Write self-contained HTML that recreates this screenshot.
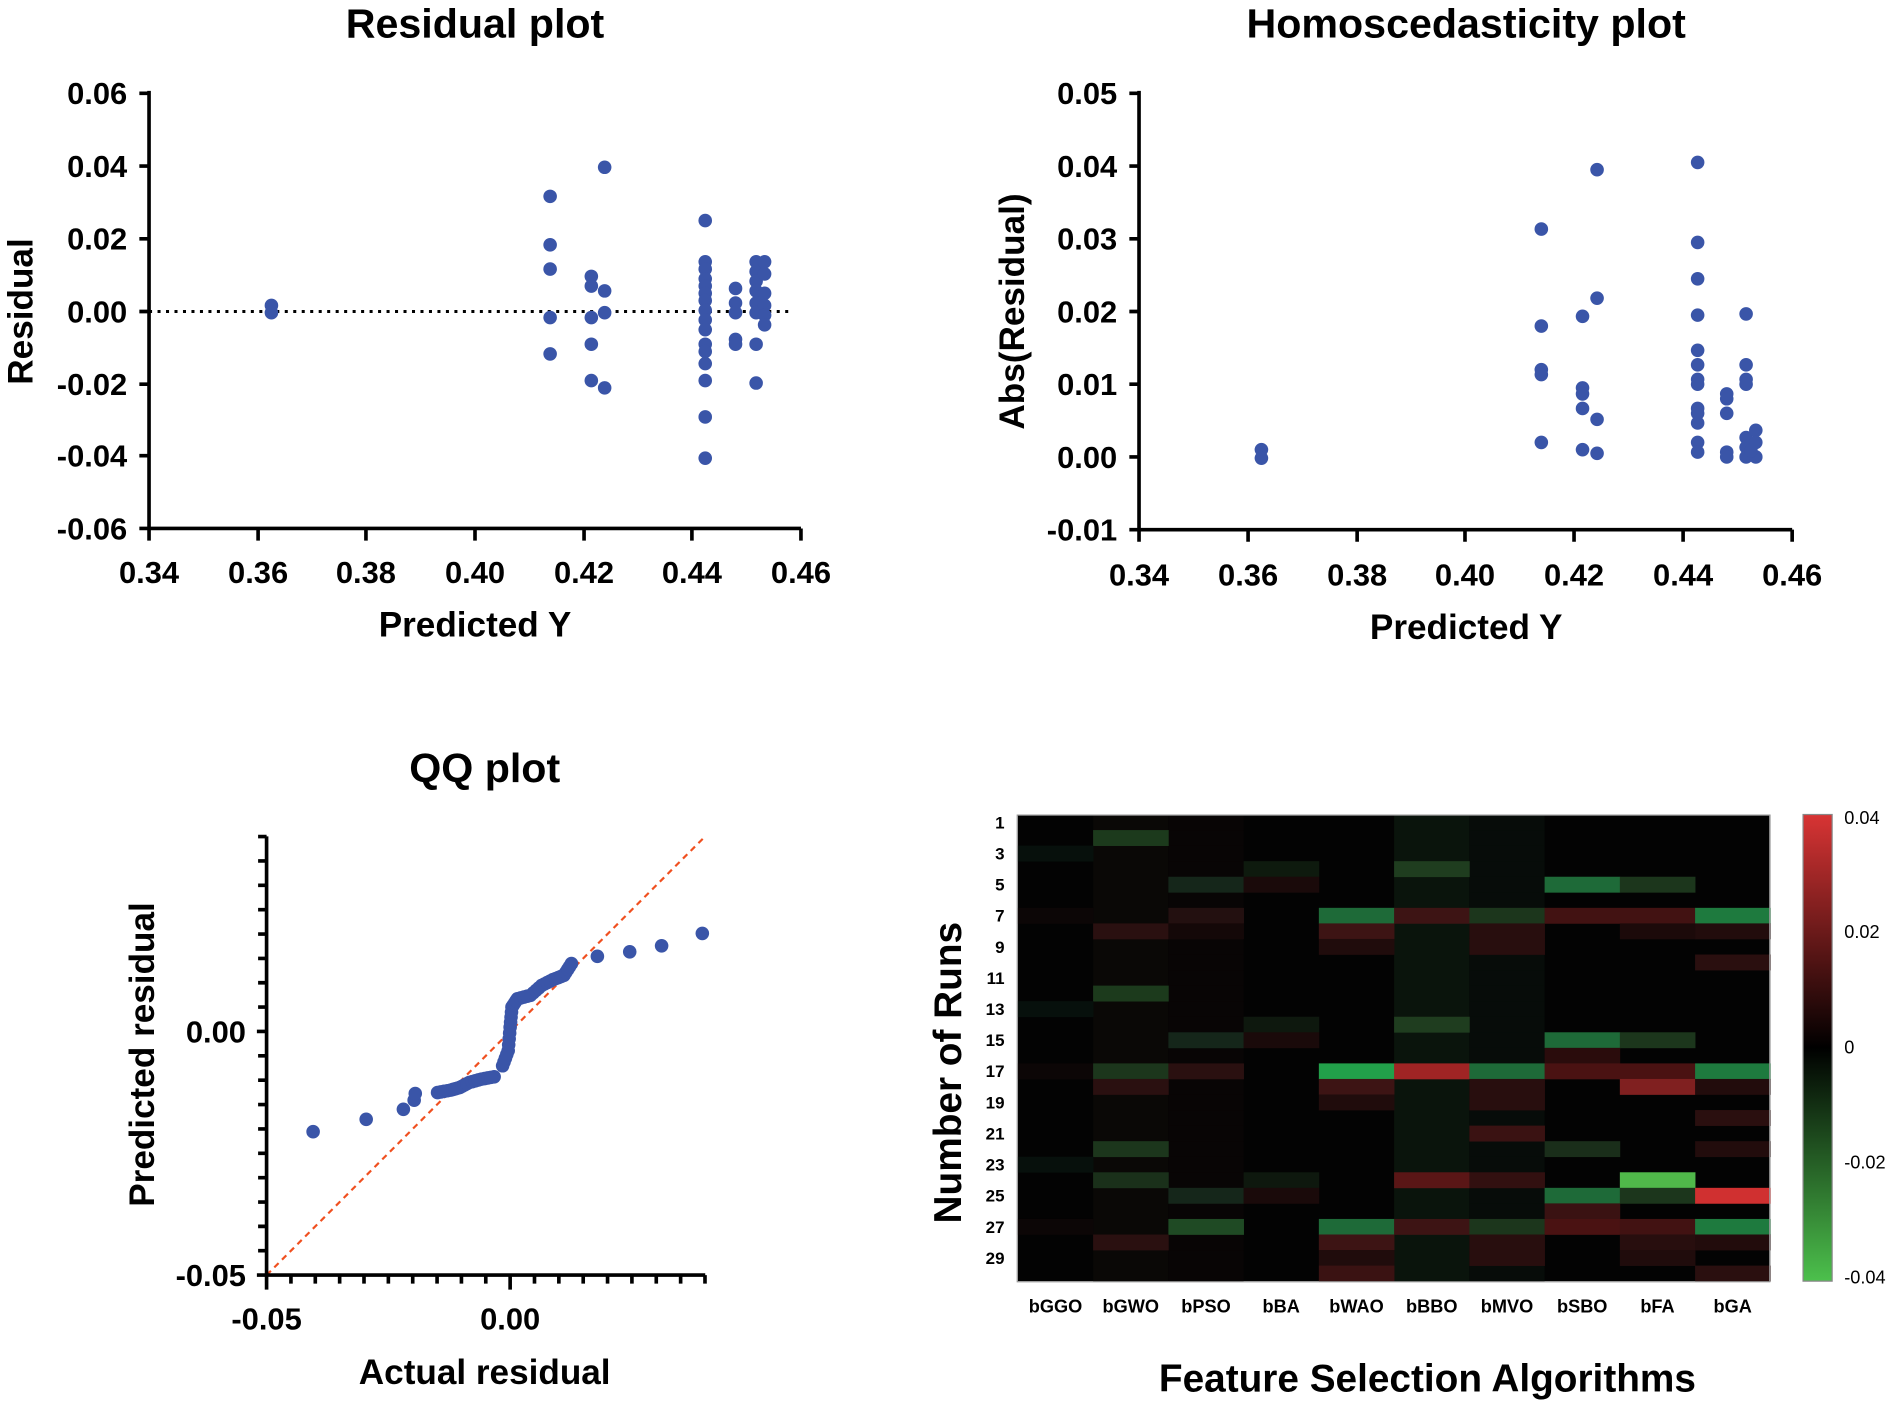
<!DOCTYPE html>
<html><head><meta charset="utf-8"><style>
html,body{margin:0;padding:0;background:#fff;}
svg{display:block;}
text{font-family:"Liberation Sans",Arial,sans-serif;font-weight:bold;fill:#000;}
</style></head><body>
<svg id="s" width="1900" height="1406" viewBox="0 0 1568 1160" preserveAspectRatio="none" xmlns="http://www.w3.org/2000/svg">
<defs><linearGradient id="cb" x1="0" y1="0" x2="0" y2="1">
<stop offset="0" stop-color="#d83434"/><stop offset="0.5" stop-color="#000"/><stop offset="1" stop-color="#4cc04c"/></linearGradient></defs>
<!-- Residual plot -->
<text x="392" y="31" font-size="34" text-anchor="middle">Residual plot</text>
<g stroke="#000" stroke-width="3" fill="none">
<path d="M123 75 V436 H661"/>
<path d="M115 77H123M115 137H123M115 197H123M115 257H123M115 317H123M115 376H123M115 436H123"/>
<path d="M123 436V446M213 436V446M302 436V446M392 436V446M482 436V446M571 436V446M661 436V446"/>
</g>
<line x1="123" y1="257" x2="655" y2="257" stroke="#000" stroke-width="2.5" stroke-dasharray="2.5 4.5"/>
<g font-size="25.5" text-anchor="end">
<text x="105" y="86">0.06</text><text x="105" y="146">0.04</text><text x="105" y="206">0.02</text><text x="105" y="266">0.00</text><text x="105" y="326">-0.02</text><text x="105" y="385">-0.04</text><text x="105" y="445">-0.06</text></g>
<g font-size="25.5" text-anchor="middle">
<text x="123" y="481">0.34</text><text x="213" y="481">0.36</text><text x="302" y="481">0.38</text><text x="392" y="481">0.40</text><text x="482" y="481">0.42</text><text x="571" y="481">0.44</text><text x="661" y="481">0.46</text></g>
<text x="392" y="525" font-size="29" text-anchor="middle">Predicted Y</text>
<text transform="translate(27,257) rotate(-90)" font-size="29" text-anchor="middle">Residual</text>
<!-- Homoscedasticity -->
<text x="1210" y="31" font-size="34" text-anchor="middle">Homoscedasticity plot</text>
<g stroke="#000" stroke-width="3" fill="none">
<path d="M940 75 V437 H1479"/>
<path d="M932 77H940M932 137H940M932 197H940M932 257H940M932 317H940M932 377H940M932 437H940"/>
<path d="M940 437V447M1030 437V447M1120 437V447M1209 437V447M1299 437V447M1389 437V447M1479 437V447"/>
</g>
<g font-size="25.5" text-anchor="end">
<text x="922" y="86">0.05</text><text x="922" y="146">0.04</text><text x="922" y="206">0.03</text><text x="922" y="266">0.02</text><text x="922" y="326">0.01</text><text x="922" y="386">0.00</text><text x="922" y="446">-0.01</text></g>
<g font-size="25.5" text-anchor="middle">
<text x="940" y="483">0.34</text><text x="1030" y="483">0.36</text><text x="1120" y="483">0.38</text><text x="1209" y="483">0.40</text><text x="1299" y="483">0.42</text><text x="1389" y="483">0.44</text><text x="1479" y="483">0.46</text></g>
<text x="1210" y="527" font-size="29" text-anchor="middle">Predicted Y</text>
<text transform="translate(845,257) rotate(-90)" font-size="29" text-anchor="middle">Abs(Residual)</text>
<!-- QQ -->
<text x="400" y="645" font-size="34" text-anchor="middle">QQ plot</text>
<line x1="220" y1="1052" x2="582" y2="690" stroke="#f05020" stroke-width="1.8" stroke-dasharray="5 4"/>
<g stroke="#000" stroke-width="3" fill="none" id="qqax">
<path d="M220 690 V1052 H582"/>
</g>
<g font-size="25.5" text-anchor="end"><text x="203" y="860">0.00</text><text x="203" y="1061">-0.05</text></g>
<g font-size="25.5" text-anchor="middle"><text x="220" y="1097">-0.05</text><text x="421" y="1097">0.00</text></g>
<text x="400" y="1142" font-size="29" text-anchor="middle">Actual residual</text>
<text transform="translate(127,870) rotate(-90)" font-size="29" text-anchor="middle">Predicted residual</text>
<!-- Heatmap -->
<g id="hm"></g>
<rect x="839.5" y="672.5" width="621" height="385" fill="none" stroke="#999" stroke-width="1"/>
<rect x="1488" y="672" width="24" height="385" fill="url(#cb)" stroke="#888" stroke-width="1"/>
<g font-size="15">
<text x="1522" y="680" style="font-weight:normal">0.04</text><text x="1522" y="774" style="font-weight:normal">0.02</text><text x="1522" y="869" style="font-weight:normal">0</text><text x="1522" y="964" style="font-weight:normal">-0.02</text><text x="1522" y="1059" style="font-weight:normal">-0.04</text></g>
<g font-size="14" text-anchor="end" id="rl"></g>
<g font-size="15" text-anchor="middle" id="cl"></g>
<text transform="translate(793,885) rotate(-90)" font-size="32" text-anchor="middle">Number of Runs</text>
<text x="1178" y="1148" font-size="32" text-anchor="middle">Feature Selection Algorithms</text>
<g id="pts" fill="#3a55a8"></g>
</svg>
<script>
var NS="http://www.w3.org/2000/svg",s=document.getElementById('s');
function el(p,t,a,txt){var e=document.createElementNS(NS,t);for(var k in a)e.setAttribute(k,a[k]);if(txt!=null)e.textContent=txt;p.appendChild(e);return e;}
var qa=document.getElementById('qqax');var d="";
for(var i=0;i<=18;i++){var y=1052-i*20.1;d+="M"+(i==0||i==10?212:213)+" "+y+"H220";var x=220+i*20.1;d+="M"+x+" 1052V"+((i==0||i==10)?1064:1059);}
el(qa,'path',{d:d});
var P=document.getElementById('pts');
function dot(x,y){el(P,'circle',{cx:x,cy:y,r:5.6});}
[[224,252],[224,258],[454,162],[454,202],[454,222],[454,262],[454,292],[488,228],[488,236],[488,262],[488,284],[488,314],[499,138],[499,240],[499,258],[499,320],
[582,182],[582,216],[582,222],[582,230],[582,236],[582,242],[582,248],[582,256],[582,264],[582,272],[582,284],[582,290],[582,300],[582,314],[582,344],[582,378],
[607,238],[607,250],[607,258],[607,280],[607,284],[624,216],[624,224],[624,232],[624,240],[624,250],[624,258],[624,284],[624,316],[631,216],[631,226],[631,242],[631,252],[631,260],[631,268]].forEach(function(p){dot(p[0],p[1]);});
[[1041,371],[1041,378],[1272,189],[1272,269],[1272,305],[1272,309],[1272,365],[1306,261],[1306,320],[1306,325],[1306,337],[1306,371],[1318,140],[1318,246],[1318,346],[1318,374],
[1401,134],[1401,200],[1401,230],[1401,260],[1401,289],[1401,301],[1401,313],[1401,317],[1401,337],[1401,341],[1401,349],[1401,365],[1401,373],
[1425,325],[1425,329],[1425,341],[1425,373],[1425,377],[1441,259],[1441,301],[1441,313],[1441,317],[1441,361],[1441,369],[1441,377],[1449,355],[1449,365],[1449,377],[1445,372]].forEach(function(p){dot(p[0],p[1]);});
var q=[[258.4,933.7],[302.2,923.5],[332.9,915.2],[341.8,907.7],[342.7,902.2],[361.1,901.4],[371.9,899.4],[379.5,897.2],[387.2,893.1],[397.3,890.3],[407.8,888.4],[414.8,879.3],[419.4,866.8],[421,847.5],[422.5,830.9],[427,824],[437.8,821.2],[447,813],[456.2,808.3],[465.4,804.7],[471.6,795],[493,789],[519.7,785.3],[546,780.3],[579.6,770.1]];
q.forEach(function(p){dot(p[0],p[1]);});
for(var i=5;i<20;i++){var a=q[i],b=q[i+1];if(i==10)continue;for(var t=0.25;t<1;t+=0.25)dot(a[0]+(b[0]-a[0])*t,a[1]+(b[1]-a[1])*t);}
var H=document.getElementById('hm');
var x0=840,y0=672,cw=62.1,rh=385/30;
el(H,'rect',{x:x0,y:y0,width:621,height:385,fill:'#030303'});
for(var r=0;r<30;r++){el(H,'rect',{x:x0+5*cw,y:y0+r*rh,width:cw,height:rh+0.5,fill:'#0a140c'});el(H,'rect',{x:x0+6*cw,y:y0+r*rh,width:cw,height:rh+0.5,fill:'#070c09'});el(H,'rect',{x:x0+1*cw,y:y0+r*rh,width:cw,height:rh+0.5,fill:'#0a0806'});el(H,'rect',{x:x0+2*cw,y:y0+r*rh,width:cw,height:rh+0.5,fill:'#080505'});}
var C={1:{1:'#1c3a1c'},2:{0:'#07100c'},3:{3:'#0e1a0e',5:'#1f3d1f'},4:{2:'#15261a',3:'#1a0a0a',7:'#1e6a38',8:'#1c361c'},
6:{0:'#0c0606',2:'#231010',4:'#1e6a38',5:'#3d1414',6:'#1c361c',7:'#421212',8:'#421212',9:'#1e7a3e'},
7:{1:'#2a1010',2:'#140808',4:'#3d1414',6:'#280e0e',8:'#1c0a0a',9:'#220c0c'},8:{4:'#200c0c',6:'#280e0e'},9:{9:'#2a0f0f'},
11:{1:'#1c3a1c'},12:{0:'#07100c'},13:{3:'#0e180e',5:'#1f3d1f'},14:{2:'#15261a',3:'#1a0a0a',7:'#1e6a38',8:'#1c361c'},15:{7:'#2a0c0c'},
16:{0:'#0c0606',1:'#1c361c',2:'#2a1010',4:'#22a04a',5:'#a02424',6:'#1e6a38',7:'#4a1212',8:'#4a1212',9:'#1e7a3e'},
17:{1:'#2a1010',4:'#3d1414',6:'#280e0e',8:'#802020',9:'#220c0c'},18:{4:'#200c0c',6:'#280e0e'},19:{9:'#2a0f0f'},20:{6:'#3a1212'},
21:{1:'#1c361c',7:'#1a2e1a',9:'#220c0c'},22:{0:'#07100c'},23:{1:'#1a301a',3:'#0e180e',5:'#5a1616',6:'#321010',8:'#50b84a'},
24:{2:'#15261a',3:'#1a0a0a',7:'#1e6a38',8:'#1c361c',9:'#d03030'},25:{7:'#3a1212'},
26:{0:'#0c0606',2:'#1f4a24',4:'#1e6a38',5:'#3d1414',6:'#1c361c',7:'#4a1212',8:'#421212',9:'#1e7a3e'},
27:{1:'#2a1010',4:'#3d1414',6:'#280e0e',8:'#280e0e',9:'#220c0c'},28:{4:'#200c0c',6:'#280e0e',8:'#200c0c'},29:{4:'#3a1212',9:'#2a0f0f'}};
for(var r in C)for(var c in C[r])el(H,'rect',{x:x0+c*cw,y:y0+r*rh,width:cw+0.3,height:rh+0.3,fill:C[r][c]});
var RL=document.getElementById('rl');
for(var i=1;i<=29;i+=2)el(RL,'text',{x:829,y:y0+(i-0.5)*rh+5},i);
var names=['bGGO','bGWO','bPSO','bBA','bWAO','bBBO','bMVO','bSBO','bFA','bGA'],CL=document.getElementById('cl');
names.forEach(function(n,i){el(CL,'text',{x:x0+(i+0.5)*cw,y:1083},n);});
</script>
</body></html>
